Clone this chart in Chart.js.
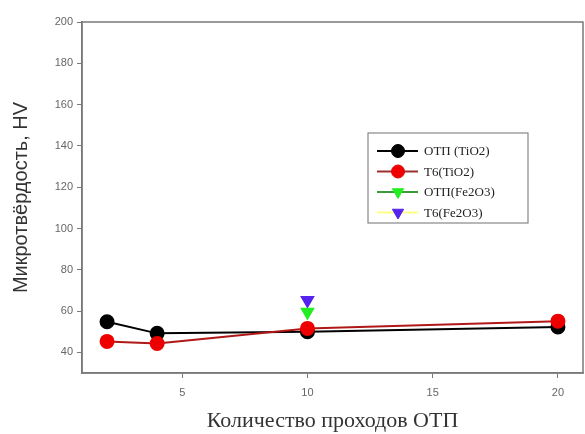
<!DOCTYPE html>
<html>
<head>
<meta charset="utf-8">
<script src="https://cdn.jsdelivr.net/npm/chart.js@4.4.1/dist/chart.umd.min.js"></script>
<style>
  html, body { margin: 0; padding: 0; background: #fff; }
  #wrap { width: 585px; height: 434px; }
</style>
</head>
<body>
<div id="wrap"><canvas id="lineChart" width="585" height="434"></canvas></div>
<script>
// data
var passes = [2, 4, 10, 20];
var otpTiO2 = [54.8, 49.2, 50, 52.3];
var t6TiO2 = [45.3, 44.3, 51.6, 55.1];
var fePasses = [10];
var otpFe2O3 = [59.6];
var t6Fe2O3 = [65.2];

var labels = ['ОТП (TiO2)', 'T6(TiO2)', 'ОТП(Fe2O3)', 'T6(Fe2O3)'];
var xTicks = [5, 10, 15, 20];
var yTicks = [40, 60, 80, 100, 120, 140, 160, 180, 200];

function pts(xs, ys) {
    return xs.map(function (x, i) { return { x: x, y: ys[i] }; });
}

var axisGray = '#7a7a7a';
var tickFont = { family: 'Liberation Sans', size: 11 };

// box round the plot + line/marker legend
var framePlugin = {
    id: 'frame',
    afterDraw: function (chart) {
        var c = chart.ctx, a = chart.chartArea;
        c.save();
        c.strokeStyle = axisGray;
        c.lineWidth = 1.5;
        c.strokeRect(a.left, a.top, a.right - a.left, a.bottom - a.top);

        var bx = a.left + 286, by = a.top + 111, bw = 160, bh = 90;
        c.fillStyle = '#fff';
        c.fillRect(bx, by, bw, bh);
        c.strokeStyle = '#888';
        c.lineWidth = 1.2;
        c.strokeRect(bx, by, bw, bh);
        chart.data.datasets.forEach(function (ds, i) {
            var ry = by + 18 + i * 20.5;
            c.strokeStyle = ds.legendLine || ds.borderColor;
            c.lineWidth = 2;
            c.beginPath();
            c.moveTo(bx + 9, ry);
            c.lineTo(bx + 50, ry);
            c.stroke();
            c.fillStyle = ds.pointBackgroundColor;
            c.strokeStyle = ds.pointBorderColor;
            c.lineWidth = 1;
            Chart.helpers.drawPoint(c, {
                pointStyle: ds.pointStyle,
                rotation: ds.pointRotation || 0,
                radius: 6.5,
                borderWidth: 1
            }, bx + 30, ry);
            c.fillStyle = '#222';
            c.font = '13px "Liberation Serif"';
            c.textBaseline = 'middle';
            c.fillText(ds.label, bx + 56, ry + 1);
        });
        c.restore();
    }
};

var ctx = document.getElementById('lineChart').getContext('2d');
var myChart = new Chart(ctx, {
    type: 'line',
    data: {
        datasets: [{
            label: labels[0],
            data: pts(passes, otpTiO2),
            borderColor: '#000',
            pointBackgroundColor: '#000',
            pointBorderColor: '#000',
            pointStyle: 'circle',
            pointRadius: 6.5,
            borderWidth: 2,
            order: 2
        }, {
            label: labels[1],
            data: pts(passes, t6TiO2),
            borderColor: '#b01818',
            legendLine: '#9a3030',
            pointBackgroundColor: '#ee0000',
            pointBorderColor: '#ee0000',
            pointStyle: 'circle',
            pointRadius: 6.5,
            borderWidth: 2,
            order: 1
        }, {
            label: labels[2],
            data: pts(fePasses, otpFe2O3),
            borderColor: '#3a9a3a',
            legendLine: '#3a9a3a',
            pointBackgroundColor: '#22ee22',
            pointBorderColor: '#22ee22',
            pointStyle: 'triangle',
            pointRotation: 180,
            rotation: 180,
            pointRadius: 6.5,
            borderWidth: 2,
            order: 3
        }, {
            label: labels[3],
            data: pts(fePasses, t6Fe2O3),
            borderColor: '#ffff66',
            legendLine: '#ffff88',
            pointBackgroundColor: '#5522ee',
            pointBorderColor: '#5522ee',
            pointStyle: 'triangle',
            pointRotation: 180,
            rotation: 180,
            pointRadius: 6.5,
            borderWidth: 2,
            order: 4
        }]
    },
    options: {
        responsive: false,
        animation: false,
        layout: { autoPadding: false, padding: { left: 0, top: 22, right: 2, bottom: 0 } },
        plugins: {
            legend: { display: false },
            tooltip: { enabled: false }
        },
        scales: {
            x: {
                type: 'linear',
                min: 1,
                max: 21,
                afterFit: function (s) { s.height = 61; s.paddingRight = 0; s.paddingLeft = 0; },
                afterBuildTicks: function (s) { s.ticks = xTicks.map(function (v) { return { value: v }; }); },
                grid: { drawOnChartArea: false, drawTicks: true, tickLength: 5, color: axisGray },
                border: { display: true, color: axisGray, width: 1.5 },
                ticks: { color: '#666', font: tickFont, padding: 8, maxRotation: 0 },
                title: {
                    display: true,
                    text: 'Количество проходов ОТП',
                    color: '#333',
                    font: { family: 'Liberation Serif', size: 22 },
                    padding: { top: 0, bottom: 0 }
                }
            },
            y: {
                min: 30,
                max: 200,
                afterFit: function (s) { s.width = 82; s.paddingTop = 0; s.paddingBottom = 0; },
                afterBuildTicks: function (s) { s.ticks = yTicks.map(function (v) { return { value: v }; }); },
                grid: { drawOnChartArea: false, drawTicks: true, tickLength: 5, color: axisGray },
                border: { display: true, color: axisGray, width: 1.5 },
                ticks: { color: '#666', font: tickFont, padding: 4 },
                title: {
                    display: true,
                    text: 'Микротвёрдость, HV',
                    color: '#333',
                    font: { family: 'Liberation Sans', size: 20 },
                    padding: { top: 9, bottom: 0 }
                }
            }
        }
    },
    plugins: [framePlugin]
});
</script>
</body>
</html>
